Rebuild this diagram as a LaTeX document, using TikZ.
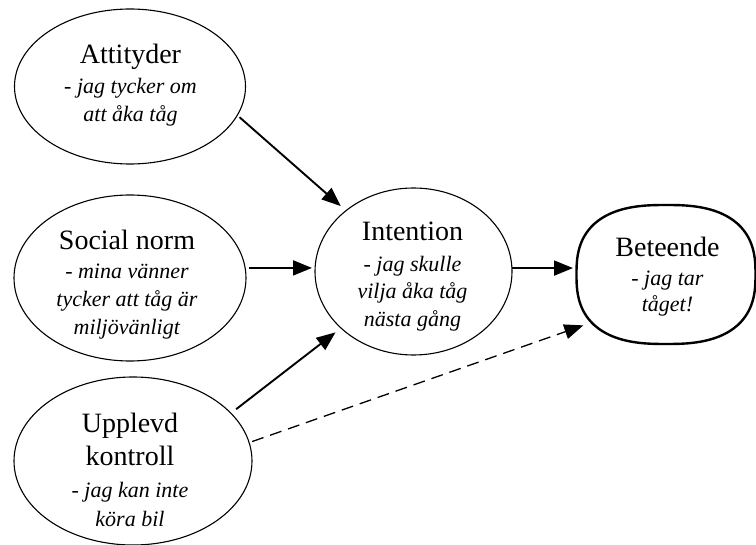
\documentclass[tikz,border=0pt]{standalone}
\usepackage{fontspec}
\setmainfont{Liberation Serif}
\usetikzlibrary{arrows.meta,shapes.geometric}
\newcommand\headword[1]{{\fontsize{28}{32}\selectfont #1}}
\begin{document}
\begin{tikzpicture}[x=1pt,y=-1pt,
  oval/.style={ellipse, draw, line width=1.1pt, inner sep=0pt, outer sep=0pt},
  txt/.style={align=center, inner sep=0pt, font=\fontsize{22}{27.5}\selectfont},
  flow/.style={line width=1.9pt, -{Triangle[length=19pt,width=15pt]}},
  hint/.style={line width=1.3pt, dash pattern=on 12pt off 7pt,
               -{Triangle[length=19pt,width=15pt]}}]
\fill[white] (0,0) rectangle (756,545);
\useasboundingbox (0,0) rectangle (756,545);

% the four plain ovals
\node[oval, minimum width=231pt, minimum height=155pt] (att) at (130,86.5) {};
\node[oval, minimum width=232pt, minimum height=166pt] (soc) at (130,278) {};
\node[oval, minimum width=238pt, minimum height=168pt] (upp) at (133,461) {};
\node[oval, minimum width=197pt, minimum height=167pt] (int) at (413.5,271.5) {};

% outcome: a heavier, slightly boxy oval (superellipse outline)
\node[ellipse, inner sep=0pt, outer sep=0pt, minimum width=179pt, minimum height=139pt] (bet) at (666,274.5) {};
\draw[line width=2.4pt, line join=round, shift={(bet.center)}]
  plot[domain=1.25:358.75, samples=144]
  ({89.5*(cos(\x)<0?-1:1)*abs(cos(\x))^(0.77)}, {69.5*(sin(\x)<0?-1:1)*abs(sin(\x))^(0.77)}) -- cycle;

% texts
\node[txt] (attT) at (130.5,85) {\headword{Attityder}\\[3pt]\textit{- jag tycker om}\\\textit{att åka tåg}};
\node[txt] (socT) at (127,284.5) {\headword{Social norm}\\[1.5pt]\textit{- mina vänner}\\[1pt]\textit{tycker att tåg är}\\\textit{miljövänligt}};
\node[txt] (uppT) at (130,470) {\headword{Upplevd}\\[5pt]\headword{kontroll}\\[5pt]\textit{- jag kan inte}\\[1pt]\textit{köra bil}};
\node[txt] (intT) at (412.5,276.6) {\headword{Intention}\\[3pt]\textit{- jag skulle}\\\textit{vilja åka tåg}\\\textit{nästa gång}};
\node[txt] (betT) at (667.5,277) {\headword{Beteende}\\[1pt]\textit{- jag tar}\\[-1pt]\textit{tåget!}};

% connectors
\draw[flow, shorten <=3pt, shorten >=7pt] (att.-15.4) -- (int.138.7);
\draw[flow, shorten <=4pt, shorten >=3pt] (soc.5) -- (soc.5 -| int.west);
\draw[flow, shorten <=6.6pt, shorten >=7pt] (upp.26.9) -- (int.218.6);
\draw[flow, shorten >=3.5pt] (int.2) -- (int.2 -| bet.west);
\draw[hint, shorten <=3.2pt, shorten >=16pt] (upp.9.3) -- (bet.214.7);
\end{tikzpicture}
\end{document}
